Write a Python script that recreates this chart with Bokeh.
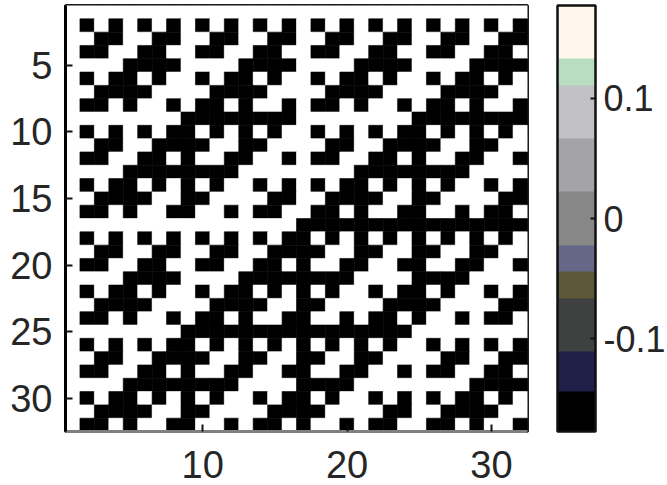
from bokeh.plotting import figure
from bokeh.models import (Range1d, FixedTicker, ColorBar,
                          LinearColorMapper, ColumnDataSource)
from bokeh.embed import file_html
from bokeh.resources import INLINE

# 32x32 matrix: "." = white (+), "#" = black (-)
ROWS = [
    "................................",
    ".#.#.#.#.#.#.#.#.#.#.#.#.#.#.#.#",
    "..##..##..##..##..##..##..##..##",
    ".##..##..##..##..##..##..##..##.",
    "....####....####....####....####",
    ".#.##.#..#.##.#..#.##.#..#.##.#.",
    "..####....####....####....####..",
    ".##.#..#.##.#..#.##.#..#.##.#..#",
    "........########........########",
    ".#.#.#.##.#.#.#..#.#.#.##.#.#.#.",
    "..##..####..##....##..####..##..",
    ".##..##.#..##..#.##..##.#..##..#",
    "....########........########....",
    ".#.##.#.#.#..#.#.#.##.#.#.#..#.#",
    "..####..##....##..####..##....##",
    ".##.#..##..#.##..##.#..##..#.##.",
    "................################",
    ".#.#.#.#.#.#.#.##.#.#.#.#.#.#.#.",
    "..##..##..##..####..##..##..##..",
    ".##..##..##..##.#..##..##..##..#",
    "....####....########....####....",
    ".#.##.#..#.##.#.#.#..#.##.#..#.#",
    "..####....####..##....####....##",
    ".##.#..#.##.#..##..#.##.#..#.##.",
    "........################........",
    ".#.#.#.##.#.#.#.#.#.#.#..#.#.#.#",
    "..##..####..##..##..##....##..##",
    ".##..##.#..##..##..##..#.##..##.",
    "....########....####........####",
    ".#.##.#.#.#..#.##.#..#.#.#.##.#.",
    "..####..##....####....##..####..",
    ".##.#..##..#.##.#..#.##..##.#..#",
]
AMPLITUDE = 0.1768          # cell magnitude (colour bar spans +/- this)
X_TICKS = [10, 20, 30]
Y_TICKS = [5, 10, 15, 20, 25, 30]
BAR_TICKS = [-0.1, 0.0, 0.1]
BAR_LABELS = ["-0.1", "0", "0.1"]
# colour bar bands, low -> high, with their relative sizes
BAR_COLORS = ["#000000", "#1f1f47", "#3f4040", "#5c5838", "#666688",
              "#878787", "#a4a4a8", "#c2c2c6", "#b9ddc0", "#fff7ec"]
BAR_COUNTS = [3, 3, 4, 2, 2, 4, 4, 4, 2, 4]
CELL_COLORS = ["#000000", "#ffffff"]

xs, ys, vs = [], [], []
for i, row in enumerate(ROWS):
    for j, ch in enumerate(row):
        xs.append(j + 1)
        ys.append(i + 1)
        vs.append(AMPLITUDE if ch == "." else -AMPLITUDE)
src = ColumnDataSource(dict(x=xs, y=ys, v=vs))

FONT = "Liberation Sans"
TXT = "#262626"
FS = "38px"
BAR_FS = "36px"

FRAME_TOP, FRAME_LEFT, FRAME_RIGHT, FRAME_BOTTOM = 5, 65, 527, 431
W, H = 667, 485

p = figure(width=W, height=H,
           x_range=Range1d(0.5, 32.5), y_range=Range1d(32.5, 0.5),
           output_backend="svg", toolbar_location=None,
           min_border_left=FRAME_LEFT, min_border_right=W - FRAME_RIGHT,
           min_border_top=FRAME_TOP, min_border_bottom=H - FRAME_BOTTOM,
           background_fill_color="#ffffff", border_fill_color="#ffffff")
p.grid.visible = False
p.outline_line_color = "#1a1a1a"
p.outline_line_width = 3

cell_mapper = LinearColorMapper(palette=CELL_COLORS, low=-AMPLITUDE, high=AMPLITUDE)
p.rect(x="x", y="y", width=1, height=1, source=src,
       fill_color={"field": "v", "transform": cell_mapper},
       line_color={"field": "v", "transform": cell_mapper}, line_width=0.6)

def style_axis(ax, ticks, line_color, standoff):
    ax.ticker = FixedTicker(ticks=ticks)
    ax.major_tick_in = 7
    ax.major_tick_out = 0
    ax.minor_tick_in = 0
    ax.minor_tick_out = 0
    ax.major_tick_line_color = "#111111"
    ax.major_tick_line_width = 2
    ax.axis_line_color = line_color
    ax.axis_line_width = 3
    ax.major_label_text_font = FONT
    ax.major_label_text_color = TXT
    ax.major_label_text_font_size = FS
    ax.major_label_standoff = standoff

style_axis(p.yaxis[0], Y_TICKS, "#000000", 13)
style_axis(p.xaxis[0], X_TICKS, "#808080", 19)

bar_palette = []
for c, n in zip(BAR_COLORS, BAR_COUNTS):
    bar_palette += [c] * n
bar_mapper = LinearColorMapper(palette=bar_palette, low=-AMPLITUDE, high=AMPLITUDE)
cb = ColorBar(color_mapper=bar_mapper, ticker=FixedTicker(ticks=BAR_TICKS),
              major_label_overrides=dict(zip(BAR_TICKS, BAR_LABELS)),
              width=38, height=FRAME_BOTTOM - FRAME_TOP,
              padding=0, margin=0, location=(557 - FRAME_LEFT, 0),
              major_label_text_font=FONT, major_label_text_font_size=BAR_FS,
              major_label_text_color=TXT, label_standoff=8,
              bar_line_color="#111111", bar_line_width=2.5,
              major_tick_line_color="#111111", major_tick_line_width=2,
              major_tick_in=5, major_tick_out=0,
              minor_tick_line_color=None,
              background_fill_color=None, border_line_color=None)
p.add_layout(cb)

open("out.html", "w").write(file_html(p, INLINE))
